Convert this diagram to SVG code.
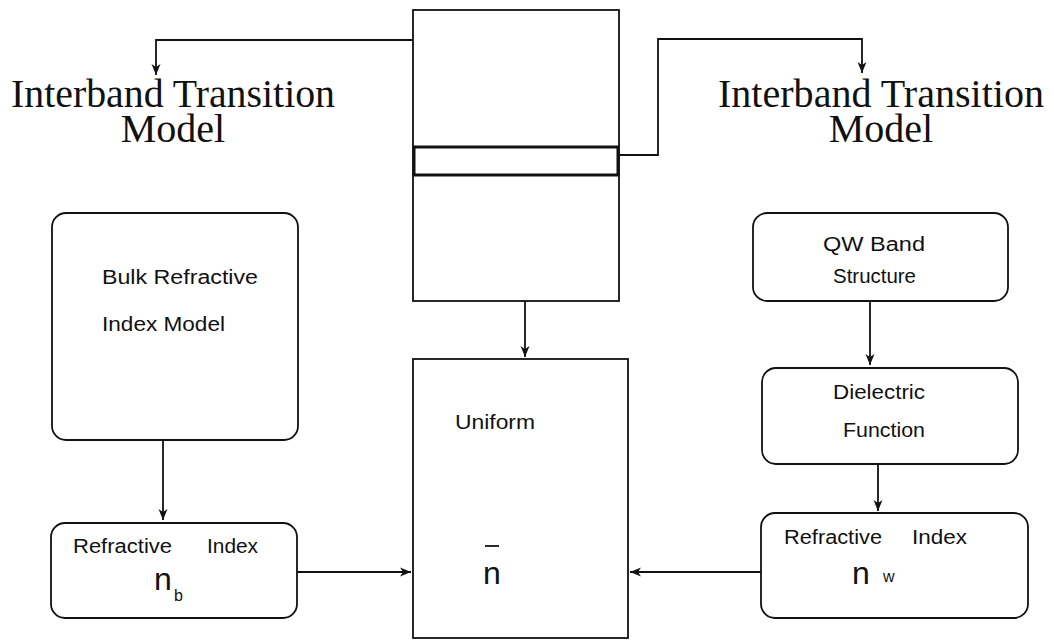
<svg xmlns="http://www.w3.org/2000/svg" width="1054" height="641" viewBox="0 0 1054 641">
  <style>
    .box { fill: none; stroke: #111; stroke-width: 1.8; }
    .wire { fill: none; stroke: #111; stroke-width: 1.8; }
    .title { font-family: "Liberation Serif", "Times New Roman", serif; font-size: 40px; fill: #111; }
    .lbl { font-family: "Liberation Sans", Arial, sans-serif; font-size: 20px; fill: #111; }
    .sym { font-family: "Liberation Sans", Arial, sans-serif; font-size: 32px; fill: #111; }
    .sub { font-family: "Liberation Sans", Arial, sans-serif; font-size: 16px; fill: #111; }
  </style>
  <defs>
    <marker id="arrow" markerUnits="userSpaceOnUse" markerWidth="12" markerHeight="12" viewBox="0 0 12 12" refX="11" refY="6" orient="auto">
      <path d="M0,1.5 L11,6 L0,10.5 L3,6 Z" fill="#111"/>
    </marker>
  </defs>

  <rect width="1054" height="641" fill="#fff"/>

  <!-- titles -->
  <g id="title-left">
    <text class="title" text-anchor="middle"><tspan x="173" y="107" textLength="324" lengthAdjust="spacingAndGlyphs">Interband Transition</tspan><tspan x="173" y="142">Model</tspan></text>
  </g>
  <g id="title-right">
    <text class="title" text-anchor="middle"><tspan x="881" y="107" textLength="326" lengthAdjust="spacingAndGlyphs">Interband Transition</tspan><tspan x="881" y="142">Model</tspan></text>
  </g>

  <!-- layered structure with the quantum-well band -->
  <g id="structure">
    <rect class="box" x="413" y="10" width="206" height="291"/>
    <rect x="414" y="147" width="204" height="28" fill="none" stroke="#111" stroke-width="3"/>
  </g>

  <!-- left column -->
  <g id="bulk-model">
    <rect class="box" x="52" y="213" width="246" height="227" rx="14"/>
    <text class="lbl" x="102" y="284" textLength="156" lengthAdjust="spacingAndGlyphs">Bulk Refractive</text>
    <text class="lbl" x="102" y="331" textLength="123" lengthAdjust="spacingAndGlyphs">Index  Model</text>
  </g>
  <g id="bulk-index">
    <rect class="box" x="51" y="523" width="246" height="95" rx="14"/>
    <text class="lbl" x="73" y="553" textLength="99" lengthAdjust="spacingAndGlyphs">Refractive</text>
    <text class="lbl" x="207" y="553" textLength="51" lengthAdjust="spacingAndGlyphs">Index</text>
    <text class="sym" x="154" y="590">n</text>
    <text class="sub" x="174" y="601">b</text>
  </g>

  <!-- centre column -->
  <g id="uniform">
    <rect class="box" x="413" y="359" width="215" height="279"/>
    <text class="lbl" x="455" y="429" textLength="80" lengthAdjust="spacingAndGlyphs">Uniform</text>
    <text class="sym" x="483" y="584">n</text>
    <line x1="485" y1="546" x2="499" y2="546" stroke="#111" stroke-width="1.8"/>
  </g>

  <!-- right column -->
  <g id="qw-band">
    <rect class="box" x="753" y="213" width="255" height="88" rx="14"/>
    <text class="lbl" x="823" y="251" textLength="102" lengthAdjust="spacingAndGlyphs">QW  Band</text>
    <text class="lbl" x="833" y="283" textLength="83" lengthAdjust="spacingAndGlyphs">Structure</text>
  </g>
  <g id="dielectric">
    <rect class="box" x="762" y="368" width="256" height="96" rx="14"/>
    <text class="lbl" x="833" y="399" textLength="92" lengthAdjust="spacingAndGlyphs">Dielectric</text>
    <text class="lbl" x="843" y="437" textLength="82" lengthAdjust="spacingAndGlyphs">Function</text>
  </g>
  <g id="well-index">
    <rect class="box" x="761" y="513" width="267" height="105" rx="14"/>
    <text class="lbl" x="784" y="544" textLength="98" lengthAdjust="spacingAndGlyphs">Refractive</text>
    <text class="lbl" x="912" y="544" textLength="55" lengthAdjust="spacingAndGlyphs">Index</text>
    <text class="sym" x="852" y="584">n</text>
    <text class="sub" x="883" y="582">w</text>
  </g>

  <!-- connectors -->
  <g id="connectors">
    <path class="wire" d="M413,40 H156 V75" marker-end="url(#arrow)"/>
    <path class="wire" d="M619,155 H658 V39 H862 V73" marker-end="url(#arrow)"/>
    <path class="wire" d="M525,301 V357" marker-end="url(#arrow)"/>
    <path class="wire" d="M163,440 V520" marker-end="url(#arrow)"/>
    <path class="wire" d="M297,572 H411" marker-end="url(#arrow)"/>
    <path class="wire" d="M761,572 H630" marker-end="url(#arrow)"/>
    <path class="wire" d="M870,301 V365" marker-end="url(#arrow)"/>
    <path class="wire" d="M878,464 V511" marker-end="url(#arrow)"/>
  </g>
</svg>
